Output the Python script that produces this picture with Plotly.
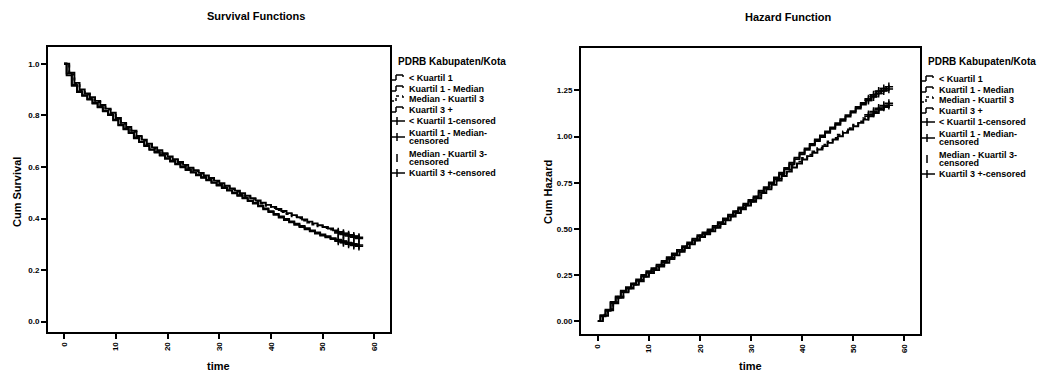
import bisect
import plotly.graph_objects as go

# ---- data -------------------------------------------------------------
# event times (months); two groups are recorded on the whole month, two on the half month
months_a = list(range(58))
months_b = [0, 0.5, 1.5, 2.5, 3.5, 4.5, 5.5, 6.5, 7.5, 8.5,
            9.5, 10.5, 11.5, 12.5, 13.5, 14.5, 15.5, 16.5, 17.5, 18.5,
            19.5, 20.5, 21.5, 22.5, 23.5, 24.5, 25.5, 26.5, 27.5, 28.5,
            29.5, 30.5, 31.5, 32.5, 33.5, 34.5, 35.5, 36.5, 37.5, 38.5,
            39.5, 40.5, 41.5, 42.5, 43.5, 44.5, 45.5, 46.5, 47.5, 48.5,
            49.5, 50.5, 51.5, 52.5, 53.5, 54.5, 55.5, 56.5]

group_names = ["< Kuartil 1", "Kuartil 1 - Median", "Median - Kuartil 3", "Kuartil 3 +"]

surv_q1 = [1.000, 0.965, 0.926, 0.900, 0.885, 0.870, 0.856, 0.840, 0.826, 0.810,
           0.790, 0.771, 0.755, 0.740, 0.720, 0.706, 0.690, 0.676, 0.665, 0.653,
           0.641, 0.630, 0.619, 0.608, 0.597, 0.587, 0.577, 0.567, 0.557, 0.547,
           0.537, 0.527, 0.517, 0.508, 0.498, 0.488, 0.479, 0.470, 0.461, 0.453,
           0.445, 0.437, 0.429, 0.421, 0.413, 0.405, 0.396, 0.388, 0.381, 0.374,
           0.367, 0.361, 0.354, 0.348, 0.342, 0.336, 0.331, 0.327]
surv_q1_med = [1.000, 0.955, 0.915, 0.890, 0.876, 0.861, 0.846, 0.831, 0.816, 0.801,
               0.781, 0.761, 0.746, 0.731, 0.711, 0.696, 0.681, 0.666, 0.656, 0.644,
               0.632, 0.621, 0.610, 0.599, 0.588, 0.578, 0.568, 0.558, 0.548, 0.538,
               0.528, 0.518, 0.508, 0.498, 0.488, 0.478, 0.468, 0.458, 0.447, 0.436,
               0.425, 0.414, 0.404, 0.394, 0.385, 0.376, 0.367, 0.358, 0.350, 0.342,
               0.334, 0.327, 0.320, 0.313, 0.307, 0.301, 0.296, 0.292]
surv_med_q3 = [1.000, 0.958, 0.922, 0.897, 0.881, 0.866, 0.852, 0.836, 0.822, 0.806,
               0.787, 0.767, 0.751, 0.736, 0.717, 0.702, 0.687, 0.672, 0.661, 0.650,
               0.638, 0.627, 0.616, 0.605, 0.594, 0.584, 0.574, 0.564, 0.554, 0.544,
               0.534, 0.524, 0.514, 0.505, 0.495, 0.486, 0.476, 0.467, 0.458, 0.449,
               0.441, 0.433, 0.425, 0.417, 0.409, 0.401, 0.392, 0.384, 0.377, 0.370,
               0.363, 0.357, 0.350, 0.344, 0.338, 0.332, 0.327, 0.323]
surv_q3 = [1.000, 0.962, 0.918, 0.893, 0.878, 0.863, 0.848, 0.833, 0.818, 0.803,
           0.783, 0.763, 0.748, 0.733, 0.713, 0.698, 0.683, 0.668, 0.658, 0.646,
           0.634, 0.623, 0.612, 0.601, 0.590, 0.580, 0.570, 0.560, 0.550, 0.540,
           0.530, 0.520, 0.510, 0.500, 0.490, 0.480, 0.470, 0.460, 0.450, 0.439,
           0.428, 0.418, 0.408, 0.398, 0.389, 0.380, 0.371, 0.362, 0.354, 0.346,
           0.338, 0.331, 0.324, 0.318, 0.312, 0.306, 0.301, 0.297]

haz_q1 = [0.000, 0.028, 0.058, 0.096, 0.126, 0.156, 0.176, 0.196, 0.216, 0.240,
          0.260, 0.276, 0.296, 0.316, 0.336, 0.356, 0.376, 0.396, 0.416, 0.436,
          0.456, 0.471, 0.486, 0.506, 0.526, 0.546, 0.566, 0.586, 0.606, 0.626,
          0.646, 0.666, 0.694, 0.714, 0.738, 0.762, 0.786, 0.810, 0.832, 0.854,
          0.876, 0.894, 0.912, 0.930, 0.948, 0.966, 0.984, 1.002, 1.020, 1.038,
          1.056, 1.074, 1.092, 1.110, 1.128, 1.146, 1.160, 1.170]
haz_q1_med = [0.000, 0.032, 0.062, 0.104, 0.134, 0.164, 0.184, 0.204, 0.226, 0.250,
              0.270, 0.286, 0.306, 0.326, 0.346, 0.366, 0.386, 0.406, 0.426, 0.446,
              0.466, 0.481, 0.496, 0.516, 0.536, 0.556, 0.576, 0.596, 0.616, 0.636,
              0.656, 0.676, 0.706, 0.726, 0.752, 0.778, 0.804, 0.830, 0.858, 0.886,
              0.912, 0.936, 0.960, 0.984, 1.006, 1.028, 1.050, 1.072, 1.094, 1.116,
              1.138, 1.160, 1.182, 1.204, 1.226, 1.246, 1.260, 1.270]
haz_med_q3 = [0.000, 0.034, 0.064, 0.102, 0.132, 0.162, 0.182, 0.202, 0.224, 0.248,
              0.268, 0.284, 0.304, 0.324, 0.344, 0.364, 0.384, 0.404, 0.424, 0.444,
              0.464, 0.479, 0.494, 0.514, 0.534, 0.554, 0.574, 0.594, 0.614, 0.634,
              0.654, 0.674, 0.702, 0.722, 0.748, 0.772, 0.796, 0.820, 0.842, 0.864,
              0.884, 0.902, 0.920, 0.938, 0.956, 0.974, 0.992, 1.010, 1.028, 1.046,
              1.064, 1.082, 1.100, 1.118, 1.136, 1.154, 1.168, 1.180]
haz_q3 = [0.000, 0.026, 0.056, 0.098, 0.128, 0.158, 0.178, 0.198, 0.218, 0.242,
          0.262, 0.278, 0.298, 0.318, 0.338, 0.358, 0.378, 0.398, 0.418, 0.438,
          0.458, 0.473, 0.488, 0.508, 0.528, 0.548, 0.568, 0.588, 0.608, 0.628,
          0.648, 0.668, 0.698, 0.718, 0.744, 0.770, 0.796, 0.822, 0.850, 0.878,
          0.904, 0.928, 0.952, 0.976, 0.998, 1.020, 1.042, 1.064, 1.086, 1.108,
          1.130, 1.152, 1.174, 1.196, 1.216, 1.234, 1.248, 1.258]

censored_months = [53, 54, 55, 56, 57]

x_ticks = [0, 10, 20, 30, 40, 50, 60]
surv_ticks = [0.0, 0.2, 0.4, 0.6, 0.8, 1.0]
haz_ticks = [0.00, 0.25, 0.50, 0.75, 1.00, 1.25]

legend_title = "PDRB Kabupaten/Kota"
legend_labels = [["< Kuartil 1"], ["Kuartil 1 - Median"], ["Median - Kuartil 3"], ["Kuartil 3 +"],
                 ["< Kuartil 1-censored"], ["Kuartil 1 - Median-", "censored"],
                 ["Median - Kuartil 3-", "censored"], ["Kuartil 3 +-censored"]]

# ---- styling ----------------------------------------------------------
W, H = 1044, 377
FONT = "Arial, Liberation Sans, sans-serif"
dashes = ["solid", "solid", "dot", "solid"]
time_grids = [months_a, months_b, months_a, months_b]
survival = [surv_q1, surv_q1_med, surv_med_q3, surv_q3]
hazard = [haz_q1, haz_q1_med, haz_med_q3, haz_q3]


def px_x(px):
    return px / W


def px_y(py):
    return 1 - py / H


def step_value(times, vals, t):
    # value of a right-continuous step function at time t
    return vals[bisect.bisect_right(times, t) - 1]


fig = go.Figure()

for axis_id, series in (("", survival), ("2", hazard)):
    for name, times, vals, dash in zip(group_names, time_grids, series, dashes):
        fig.add_trace(go.Scatter(
            x=times, y=vals, mode="lines", line=dict(shape="hv", color="black", width=1.9, dash=dash),
            name=name, showlegend=False, xaxis="x" + axis_id, yaxis="y" + axis_id))
    for name, times, vals in zip(group_names, time_grids, series):
        fig.add_trace(go.Scatter(
            x=censored_months, y=[step_value(times, vals, t) for t in censored_months], mode="markers",
            marker=dict(symbol="cross-thin", size=6, line=dict(color="black", width=1.5)),
            name=name + "-censored", showlegend=False, xaxis="x" + axis_id, yaxis="y" + axis_id))

axis_common = dict(showline=True, mirror=True, linecolor="black", linewidth=2, ticks="outside",
                   ticklen=5, tickwidth=1.5, tickcolor="black", showgrid=False, zeroline=False,
                   tickfont=dict(family=FONT, size=8, color="black", weight="bold"))

fig.update_layout(
    width=W, height=H, margin=dict(l=0, r=0, t=0, b=0),
    paper_bgcolor="white", plot_bgcolor="white", showlegend=False,
    xaxis=dict(domain=[px_x(48), px_x(390)], range=[-3.1, 63], tickvals=x_ticks, tickangle=-90,
               anchor="y", **axis_common),
    yaxis=dict(domain=[px_y(332), px_y(47)], range=[-0.04, 1.065], tickvals=surv_ticks,
               tickformat=".1f", anchor="x", **axis_common),
    xaxis2=dict(domain=[px_x(581), px_x(920)], range=[-3.3, 63.1], tickvals=x_ticks, tickangle=-90,
                anchor="y2", **axis_common),
    yaxis2=dict(domain=[px_y(334), px_y(48)], range=[-0.07, 1.48], tickvals=haz_ticks,
                tickformat=".2f", anchor="x2", **axis_common),
)

annotations = []
shapes = []


def text(x, y, s, size, angle=0, anchor="center"):
    annotations.append(dict(x=px_x(x), y=px_y(y), xref="paper", yref="paper", text=s, showarrow=False,
                            textangle=angle, xanchor=anchor, yanchor="middle",
                            font=dict(family=FONT, size=size, color="black", weight="bold")))


# chart titles and axis titles
text(256, 16, "Survival Functions", 11)
text(788, 17, "Hazard Function", 11)
text(17, 192, "Cum Survival", 11, angle=-90)
text(548, 192, "Cum Hazard", 11, angle=-90)
text(218, 366, "time", 11)
text(750, 366, "time", 11)

# hand-drawn legends beside each plot
entry_offsets = [[17], [28], [38], [49], [60], [72, 80], [93, 101], [112]]


def seg(x0, y0, x1, y1, dash="solid"):
    shapes.append(dict(type="line", xref="paper", yref="paper", x0=px_x(x0), y0=px_y(y0),
                       x1=px_x(x1), y1=px_y(y1), line=dict(color="black", width=1.5, dash=dash)))


for edge, top in ((391, 61), (921, 62)):
    text(edge + 5, top, legend_title, 10, anchor="left")
    for k, (lines, offs) in enumerate(zip(legend_labels, entry_offsets)):
        for line, off in zip(lines, offs):
            text(edge + 16, top + off, line, 9, anchor="left")
        yc = top + (offs[0] + offs[-1]) / 2
        if k < 4:
            dash = "dot" if k == 2 else "solid"
            seg(edge, yc + 2, edge + 5, yc + 2, dash)
            seg(edge + 5, yc + 2, edge + 5, yc - 3, dash)
            seg(edge + 5, yc - 3, edge + 12, yc - 3, dash)
            seg(edge + 12, yc - 3, edge + 12, yc - 1, dash)
        else:
            if k != 6:
                seg(edge, yc, edge + 14, yc)
            seg(edge + 6, yc - 4, edge + 6, yc + 4)

fig.update_layout(annotations=annotations, shapes=shapes)

fig.write_html("out.html")
